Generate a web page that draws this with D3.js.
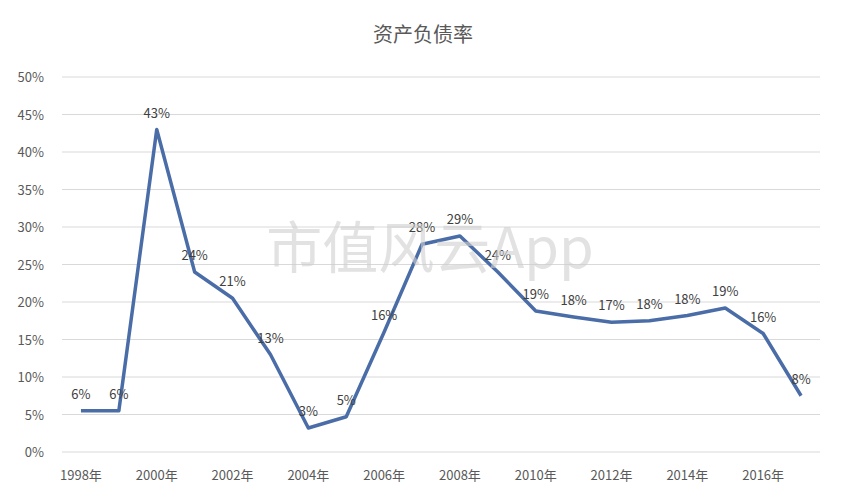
<!DOCTYPE html>
<html><head><meta charset="utf-8">
<script src="https://cdn.jsdelivr.net/npm/d3@7"></script>
<style>body{margin:0;background:#fff;font-family:"Noto Sans CJK SC","DejaVu Sans",sans-serif;}</style>
</head><body><div id="chart"></div>
<script>
const years = d3.range(1998, 2018);
const ratios = [5.5, 5.5, 43, 24, 20.5, 13, 3.2, 4.7, 16, 27.7, 28.8, 24, 18.8, 18, 17.3, 17.5, 18.2, 19.2, 15.8, 7.5];
const labels = ["6%","6%","43%","24%","21%","13%","3%","5%","16%","28%","29%","24%","19%","18%","17%","18%","18%","19%","16%","8%"];
const yTicks = [0,5,10,15,20,25,30,35,40,45,50];

const width = 846, height = 502;
const margin = {top: 77, right: 26, bottom: 50, left: 62};

const svg = d3.select("#chart").append("svg")
    .attr("width", width).attr("height", height);

const x = d3.scaleBand().domain(years).range([margin.left, width - margin.right]);
const y = d3.scaleLinear().domain([0, 50]).range([height - margin.bottom, margin.top]);

svg.append("text").attr("x", width / 2).attr("y", 42).attr("text-anchor", "middle")
    .style("font-size", "20px").attr("fill", "#595959").text("资产负债率");

// grid
svg.append("g").selectAll("line").data(yTicks).enter().append("line")
    .attr("x1", margin.left).attr("x2", width - margin.right)
    .attr("y1", d => y(d)).attr("y2", d => y(d))
    .attr("stroke", "#d9d9d9").attr("stroke-width", 1);

svg.append("g").selectAll("text").data(yTicks).enter().append("text")
    .attr("x", 44).attr("y", d => y(d) + 5).attr("text-anchor", "end")
    .style("font-size", "13px").attr("fill", "#595959").text(d => d + "%");

svg.append("g").selectAll("text").data(years.filter(d => d % 2 === 0)).enter().append("text")
    .attr("x", d => x(d) + x.bandwidth() / 2).attr("y", 480).attr("text-anchor", "middle")
    .style("font-size", "13px").attr("fill", "#595959").text(d => d + "年");

const line = d3.line().x((d, i) => x(years[i]) + x.bandwidth() / 2).y(d => y(d));
svg.append("path").datum(ratios).attr("d", line)
    .attr("fill", "none").attr("stroke", "#4a6da8").attr("stroke-width", 3.5)
    .attr("stroke-linejoin", "round");

svg.append("g").selectAll("text").data(ratios).enter().append("text")
    .attr("x", (d, i) => x(years[i]) + x.bandwidth() / 2)
    .attr("y", d => y(d) - 12).attr("text-anchor", "middle")
    .style("font-size", "13px").attr("fill", "#404040").text((d, i) => labels[i]);

// watermark
svg.append("text").attr("x", 430).attr("y", 268).attr("text-anchor", "middle")
    .style("font-size", "56px").attr("fill", "#cfcfcf").attr("opacity", 0.6)
    .text("市值风云App");
</script></body></html>
